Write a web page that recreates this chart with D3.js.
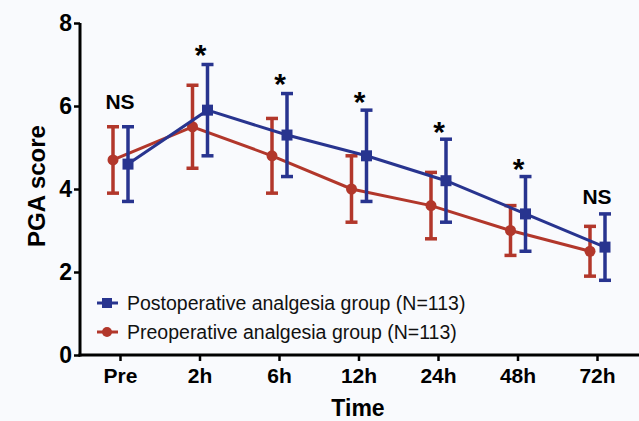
<!DOCTYPE html>
<html><head><meta charset="utf-8">
<script src="https://cdn.jsdelivr.net/npm/d3@7"></script>
<style>
body{margin:0;background:#f9fafd;}
svg{display:block;font-family:"Liberation Sans",Arial,sans-serif;}
</style></head>
<body><svg id="c" width="639" height="421"></svg>
<script>
const categories = ["Pre","2h","6h","12h","24h","48h","72h"];
const postMean = [4.6, 5.9, 5.3, 4.8, 4.2, 3.4, 2.6];
const postLow  = [3.7, 4.8, 4.3, 3.7, 3.2, 2.5, 1.8];
const postHigh = [5.5, 7.0, 6.3, 5.9, 5.2, 4.3, 3.4];
const preMean  = [4.7, 5.5, 4.8, 4.0, 3.6, 3.0, 2.5];
const preLow   = [3.9, 4.5, 3.9, 3.2, 2.8, 2.4, 1.9];
const preHigh  = [5.5, 6.5, 5.7, 4.8, 4.4, 3.6, 3.1];
const marks    = ["NS","*","*","*","*","*","NS"];
const markY    = [6.12, 7.45, 6.75, 6.3, 5.6, 4.7, 3.83];
const yTicks   = [0, 2, 4, 6, 8];
const seriesNames = ["Postoperative analgesia group (N=113)","Preoperative analgesia group (N=113)"];

const blue = "#28348f", red = "#b2372b";
const svg = d3.select("#c");
const x = d3.scalePoint().domain(categories).range([120, 597]);
const y = d3.scaleLinear().domain([0, 8]).range([355, 23]);
const off = {post: 8, pre: -7};
const FF = "Liberation Sans, Arial, sans-serif";

// axes
const yAxis = svg.append("g").attr("transform","translate(80,0)")
  .call(d3.axisLeft(y).tickValues(yTicks).tickSize(6).tickPadding(2));
yAxis.select(".domain").attr("stroke","#000").attr("stroke-width",3).attr("d","M0,"+y(8)+"V"+(y(0)+1.5));
yAxis.selectAll(".tick line").attr("stroke","#000").attr("stroke-width",2.5);
yAxis.selectAll(".tick text").attr("font-size",23).attr("font-weight","bold").attr("fill","#000")
  .attr("font-family",FF);

const xAxis = svg.append("g").attr("transform","translate(0,355)")
  .call(d3.axisBottom(x).tickSize(6).tickPadding(7));
xAxis.select(".domain").attr("stroke","#000").attr("stroke-width",3).attr("d","M78.5,0H639");
xAxis.selectAll(".tick line").attr("stroke","#000").attr("stroke-width",2.5);
xAxis.selectAll(".tick text").attr("font-size",21).attr("font-weight","bold").attr("fill","#000")
  .attr("font-family",FF);

svg.append("text").attr("x",358).attr("y",416).attr("text-anchor","middle")
  .attr("font-size",23).attr("font-weight","bold").text("Time");
svg.append("text").attr("transform","translate(45,186) rotate(-90)").attr("text-anchor","middle")
  .attr("font-size",24).attr("font-weight","bold").text("PGA score");

function drawSeries(mean, low, high, color, dx, shape){
  const g = svg.append("g");
  const line = d3.line().x((d,i)=>x(categories[i])+dx).y(d=>y(d));
  g.append("path").datum(mean).attr("d",line).attr("fill","none").attr("stroke",color).attr("stroke-width",3);
  categories.forEach((c,i)=>{
    const cx = x(c)+dx;
    g.append("line").attr("x1",cx).attr("x2",cx).attr("y1",y(low[i])).attr("y2",y(high[i]))
      .attr("stroke",color).attr("stroke-width",3.5);
    [low[i],high[i]].forEach(v=>g.append("line").attr("x1",cx-6).attr("x2",cx+6)
      .attr("y1",y(v)).attr("y2",y(v)).attr("stroke",color).attr("stroke-width",3.5));
    if(shape==="square") g.append("rect").attr("x",cx-5.5).attr("y",y(mean[i])-5.5).attr("width",11).attr("height",11).attr("fill",color);
    else g.append("circle").attr("cx",cx).attr("cy",y(mean[i])).attr("r",5.5).attr("fill",color);
  });
}
drawSeries(preMean, preLow, preHigh, red, off.pre, "circle");
drawSeries(postMean, postLow, postHigh, blue, off.post, "square");

// significance marks
categories.forEach((c,i)=>{
  const isStar = marks[i]==="*";
  svg.append("text").attr("x",x(c)+(isStar?1:0)).attr("y",y(markY[i]))
    .attr("text-anchor","middle").attr("dominant-baseline","central")
    .attr("font-size",isStar?30:21).attr("font-weight","bold").text(marks[i])
    .attr("dy",isStar?"0.28em":"0");
});

// legend
const leg = [{name:seriesNames[0],color:blue,shape:"square",y:303},{name:seriesNames[1],color:red,shape:"circle",y:332}];
leg.forEach(l=>{
  const g = svg.append("g");
  g.append("line").attr("x1",97).attr("x2",118).attr("y1",l.y).attr("y2",l.y).attr("stroke",l.color).attr("stroke-width",3);
  if(l.shape==="square") g.append("rect").attr("x",102).attr("y",l.y-5).attr("width",10).attr("height",10).attr("fill",l.color);
  else g.append("circle").attr("cx",107).attr("cy",l.y).attr("r",5).attr("fill",l.color);
  g.append("text").attr("x",127).attr("y",l.y).attr("dominant-baseline","central")
    .attr("font-size",19.5).attr("fill","#111").text(l.name);
});
</script></body></html>
